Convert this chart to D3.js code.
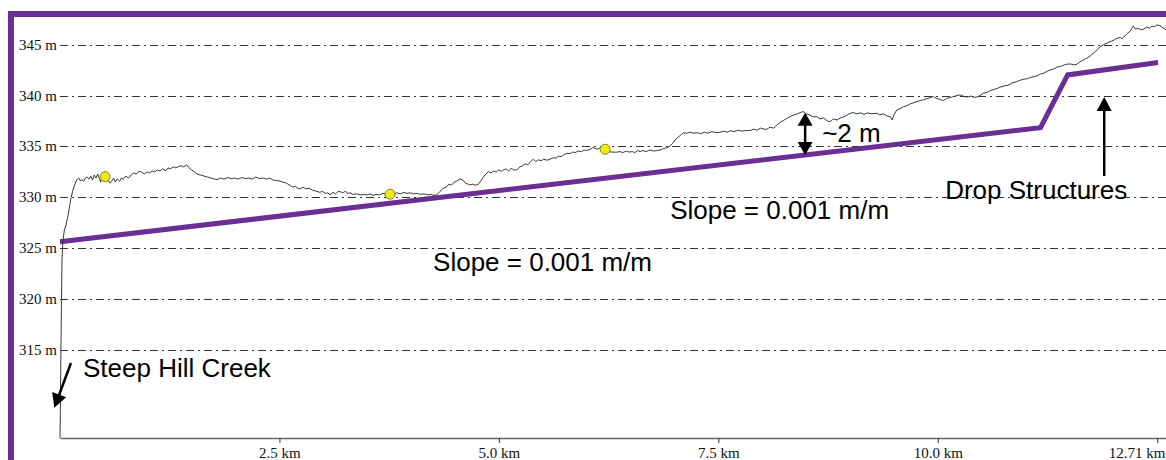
<!DOCTYPE html>
<html>
<head>
<meta charset="utf-8">
<script src="https://cdn.jsdelivr.net/npm/d3@7"></script>
<style>
  html, body { margin: 0; padding: 0; background: #fff; }
  svg { display: block; }
</style>
</head>
<body>
<svg id="chart" width="1166" height="460"></svg>
<script>
// Elevation gridlines (m) and their labels
const elevTicks = [315, 320, 325, 330, 335, 340, 345];
const elevTickLabels = ["315 m", "320 m", "325 m", "330 m", "335 m", "340 m", "345 m"];

// Distance ticks (km) and labels; the last tick marks the end of the route
const distTicks = [2.5, 5.0, 7.5, 10.0, 12.5];
const distTickLabels = ["2.5 km", "5.0 km", "7.5 km", "10.0 km", "12.71 km"];

// Ground profile along the creek: [distance km, elevation m]
const profile = [
  [0.000,306.4],[0.004,309.0],[0.008,312.5],[0.012,316.0],[0.017,319.9],[0.023,323.9],[0.034,325.8],
  [0.050,326.8],[0.068,327.3],[0.091,328.2],[0.110,329.2],[0.125,329.95],[0.148,330.74],[0.170,331.3],
  [0.190,331.72],[0.215,331.9],[0.235,331.6],[0.250,331.75],[0.270,331.6],[0.290,331.9],[0.310,332.0],
  [0.330,331.8],[0.350,332.1],[0.370,331.7],[0.390,332.2],[0.410,331.9],[0.430,332.3],[0.450,331.8],
  [0.465,331.5],[0.480,332.3],[0.500,332.1],[0.513,332.04],[0.530,331.9],[0.550,331.7],[0.570,331.4],
  [0.590,331.6],[0.610,331.9],[0.630,331.5],[0.650,331.8],[0.680,331.6],[0.700,331.9],[0.720,331.8],
  [0.750,332.1],[0.780,331.9],[0.810,332.2],[0.840,332.4],[0.870,332.3],[0.900,332.55],[0.930,332.5],
  [0.960,332.3],[0.990,332.5],[1.020,332.4],[1.050,332.6],[1.080,332.5],[1.110,332.7],[1.140,332.6],
  [1.170,332.8],[1.200,332.6],[1.230,332.9],[1.260,332.8],[1.290,333.0],[1.320,332.9],[1.350,333.05],
  [1.380,333.1],[1.410,333.0],[1.444,333.2],[1.470,332.9],[1.500,332.7],[1.530,332.5],[1.560,332.3],
  [1.600,332.2],[1.640,332.1],[1.680,332.0],[1.720,331.9],[1.760,331.8],[1.790,331.75],[1.830,331.9],
  [1.870,331.8],[1.910,331.95],[1.950,331.85],[1.990,331.9],[2.030,331.8],[2.070,331.95],[2.110,331.85],
  [2.150,331.9],[2.190,331.8],[2.230,332.0],[2.270,331.85],[2.310,331.9],[2.350,331.8],[2.390,331.9],
  [2.430,331.7],[2.470,331.65],[2.510,331.6],[2.540,331.5],[2.580,331.4],[2.620,331.2],[2.650,331.0],
  [2.680,331.1],[2.710,330.9],[2.735,330.85],[2.770,331.0],[2.800,330.85],[2.840,330.9],[2.880,330.7],
  [2.925,330.6],[2.960,330.5],[2.990,330.6],[3.020,330.4],[3.050,330.45],[3.077,330.25],[3.110,330.5],
  [3.140,330.35],[3.170,330.6],[3.190,330.57],[3.220,330.45],[3.250,330.6],[3.280,330.4],[3.304,330.45],
  [3.340,330.3],[3.380,330.35],[3.420,330.25],[3.460,330.3],[3.500,330.25],[3.530,330.35],[3.567,330.2],
  [3.600,330.3],[3.640,330.25],[3.680,330.4],[3.720,330.3],[3.760,330.3],[3.800,330.35],[3.840,330.45],
  [3.880,330.35],[3.920,330.5],[3.950,330.4],[3.990,330.45],[4.030,330.35],[4.070,330.4],[4.110,330.3],
  [4.150,330.35],[4.190,330.25],[4.230,330.3],[4.260,330.2],[4.292,330.25],[4.330,330.6],[4.368,330.9],
  [4.400,331.0],[4.430,331.3],[4.460,331.2],[4.490,331.5],[4.520,331.6],[4.558,331.82],[4.590,331.7],
  [4.620,331.4],[4.650,331.3],[4.672,331.23],[4.700,331.3],[4.730,331.2],[4.766,331.3],[4.800,331.7],
  [4.840,332.2],[4.880,332.53],[4.910,332.4],[4.940,332.6],[4.970,332.5],[5.000,332.7],[5.030,332.55],
  [5.051,332.7],[5.080,332.8],[5.110,332.6],[5.140,332.85],[5.170,332.7],[5.204,332.7],[5.240,333.0],
  [5.270,333.1],[5.300,333.3],[5.330,333.2],[5.360,333.5],[5.393,333.75],[5.420,333.5],[5.450,333.7],
  [5.480,333.6],[5.510,333.75],[5.550,333.65],[5.584,333.75],[5.620,333.9],[5.650,333.85],[5.680,334.05],
  [5.710,334.0],[5.740,334.2],[5.774,334.34],[5.810,334.3],[5.840,334.45],[5.870,334.4],[5.900,334.55],
  [5.940,334.5],[5.970,334.65],[6.000,334.6],[6.039,334.7],[6.070,334.9],[6.100,334.8],[6.130,334.75],
  [6.160,334.9],[6.210,334.73],[6.250,334.5],[6.290,334.45],[6.343,334.44],[6.380,334.5],[6.410,334.4],
  [6.450,334.55],[6.480,334.45],[6.520,334.5],[6.550,334.4],[6.580,334.6],[6.609,334.5],[6.640,334.6],
  [6.680,334.5],[6.720,334.65],[6.760,334.55],[6.800,334.6],[6.837,334.66],[6.880,334.8],[6.920,334.9],
  [6.951,335.06],[6.980,335.3],[7.008,335.64],[7.040,335.9],[7.070,336.1],[7.102,336.36],[7.140,336.3],
  [7.180,336.4],[7.220,336.3],[7.260,336.35],[7.300,336.25],[7.340,336.4],[7.380,336.3],[7.420,336.45],
  [7.483,336.36],[7.520,336.4],[7.560,336.5],[7.600,336.4],[7.640,336.55],[7.680,336.45],[7.720,336.6],
  [7.760,336.5],[7.800,336.55],[7.862,336.56],[7.900,336.7],[7.940,336.6],[7.980,336.8],[8.020,336.7],
  [8.053,336.69],[8.090,336.9],[8.130,336.8],[8.167,337.12],[8.210,337.4],[8.250,337.6],[8.290,337.8],
  [8.318,337.93],[8.360,338.1],[8.400,338.2],[8.440,338.35],[8.470,338.42],[8.500,338.2],[8.540,338.1],
  [8.580,337.9],[8.622,337.93],[8.660,337.7],[8.700,337.8],[8.740,337.5],[8.774,337.44],[8.810,337.7],
  [8.850,337.6],[8.890,337.8],[8.930,337.9],[8.970,338.1],[9.000,338.25],[9.039,338.32],[9.080,338.2],
  [9.120,338.3],[9.160,338.15],[9.200,338.3],[9.240,338.2],[9.306,338.26],[9.340,338.1],[9.380,338.2],
  [9.420,338.0],[9.458,337.93],[9.480,337.6],[9.500,338.1],[9.534,338.59],[9.570,338.7],[9.610,338.9],
  [9.650,339.0],[9.690,339.2],[9.730,339.3],[9.762,339.4],[9.800,339.5],[9.840,339.6],[9.880,339.7],
  [9.920,339.8],[9.951,339.89],[9.990,339.7],[10.030,339.6],[10.065,339.5],[10.100,339.7],[10.140,339.8],
  [10.180,339.9],[10.220,340.0],[10.255,340.06],[10.300,339.9],[10.340,339.85],[10.380,339.95],[10.420,339.8],
  [10.460,339.9],[10.521,340.23],[10.560,340.3],[10.600,340.5],[10.640,340.6],[10.680,340.7],[10.720,340.85],
  [10.760,340.95],[10.800,341.0],[10.840,341.2],[10.901,341.37],[10.940,341.5],[10.980,341.6],[11.020,341.65],
  [11.060,341.8],[11.100,341.85],[11.129,341.93],[11.170,342.1],[11.210,342.2],[11.250,342.4],[11.281,342.51],
  [11.320,342.6],[11.360,342.8],[11.400,342.85],[11.440,343.0],[11.471,343.07],[11.510,343.1],[11.550,343.0],
  [11.585,343.07],[11.620,343.3],[11.660,343.5],[11.699,343.66],[11.740,343.9],[11.780,344.2],[11.820,344.5],
  [11.851,344.8],[11.890,345.0],[11.930,345.15],[11.970,345.3],[12.010,345.45],[12.041,345.62],[12.080,345.7],
  [12.100,345.55],[12.116,345.72],[12.160,346.1],[12.190,346.3],[12.211,346.61],[12.230,346.83],[12.250,346.5],
  [12.280,346.6],[12.310,346.45],[12.344,346.51],[12.380,346.7],[12.410,346.6],[12.440,346.8],[12.470,346.75],
  [12.496,346.93],[12.530,346.85],[12.572,346.61],[12.603,346.44]
];

// Sampled points on the ground profile
const samplePoints = [[0.513, 332.04], [3.76, 330.32], [6.21, 334.73]];

// Design channel grade with the drop structures: [distance km, elevation m]
const designGrade = [[0, 325.66], [11.17, 336.85], [11.48, 342.02], [12.51, 343.23]];

// Text callouts anchored in data units: [distance km, elevation m]
const callouts = [
  { text: "Steep Hill Creek", at: [0.262, 312.39] },
  { text: "~2 m", at: [8.683, 335.45] },
  { text: "Slope = 0.001 m/m", at: [6.951, 327.89] },
  { text: "Slope = 0.001 m/m", at: [4.25, 322.79] },
  { text: "Drop Structures", at: [10.084, 329.85] }
];

// Callout arrows: [from, to]; double-headed arrows list both ends
const arrows = [
  { from: [0.125, 313.76], to: [-0.065, 309.37], both: false },
  { from: [8.489, 336.2], to: [8.489, 338.32], both: true, other: [8.489, 334.17] },
  { from: [11.896, 332.11], to: [11.896, 339.86], both: false }
];

const W = 1166, H = 460;
const svg = d3.select("#chart");
const purple = "#6b2e93";

const x = d3.scaleLinear().domain([0, 12.6]).range([60, 1166]);
const y = d3.scaleLinear().domain([306.4, 347.8]).range([438, 16]);

// Frame
svg.append("rect").attr("x", 8).attr("y", 11).attr("width", W - 8).attr("height", 6).attr("fill", purple);
svg.append("rect").attr("x", 8).attr("y", 11).attr("width", 6).attr("height", H - 11).attr("fill", purple);

// Gridlines and elevation labels
const grid = svg.append("g");
elevTicks.forEach((v, i) => {
  grid.append("line")
    .attr("x1", 60).attr("x2", W)
    .attr("y1", Math.round(y(v)) + 0.5).attr("y2", Math.round(y(v)) + 0.5)
    .attr("stroke", "#333").attr("stroke-width", 1)
    .attr("stroke-dasharray", "8,4,2,4");
  grid.append("text")
    .attr("x", 57).attr("y", y(v) + 5)
    .attr("text-anchor", "end")
    .attr("font-family", "'Liberation Serif', 'Times New Roman', serif")
    .attr("font-size", 15).attr("fill", "#111")
    .text(elevTickLabels[i]);
});

// Distance axis
const xAxis = d3.axisBottom(x)
  .tickValues(distTicks)
  .tickFormat((d, i) => distTickLabels[i])
  .tickSizeInner(5).tickSizeOuter(0);
const gx = svg.append("g").attr("transform", "translate(0,438)").call(xAxis);
gx.select(".domain").attr("stroke", "#666").attr("stroke-width", 1.5);
gx.selectAll(".tick line").attr("stroke", "#333");
gx.selectAll(".tick text")
  .attr("font-family", "'Liberation Serif', 'Times New Roman', serif")
  .attr("font-size", 15).attr("fill", "#111").attr("dy", 0).attr("y", 20);
// the end-of-route label sits against the right edge
gx.selectAll(".tick text").filter((d, i) => i === distTicks.length - 1)
  .attr("text-anchor", "end").attr("x", W - x(distTicks[distTicks.length - 1]) - 1);

// Design grade
svg.append("path")
  .datum(designGrade)
  .attr("d", d3.line().x(d => x(d[0])).y(d => y(d[1])))
  .attr("fill", "none").attr("stroke", purple).attr("stroke-width", 5)
  .attr("stroke-linejoin", "miter");

// Ground profile
svg.append("path")
  .datum(profile)
  .attr("d", d3.line().x(d => x(d[0])).y(d => y(d[1])))
  .attr("fill", "none").attr("stroke", "#3a3a3a").attr("stroke-width", 1);

// Sample points
svg.selectAll("circle.sample").data(samplePoints).join("circle")
  .attr("class", "sample")
  .attr("cx", d => x(d[0])).attr("cy", d => y(d[1])).attr("r", 5)
  .attr("fill", "#f2ea10").attr("stroke", "#8a8420").attr("stroke-width", 1);

// Arrows
function head(tip, from, len, half) {
  const dx = tip[0] - from[0], dy = tip[1] - from[1];
  const L = Math.hypot(dx, dy), ux = dx / L, uy = dy / L;
  const bx = tip[0] - ux * len, by = tip[1] - uy * len;
  return `M${tip[0]},${tip[1]}L${bx - uy * half},${by + ux * half}L${bx + uy * half},${by - ux * half}Z`;
}
const ag = svg.append("g");
arrows.forEach(a => {
  if (a.both) {
    const p1 = [x(a.to[0]), y(a.to[1])], p2 = [x(a.other[0]), y(a.other[1])];
    ag.append("line").attr("x1", p1[0]).attr("y1", p1[1] + 8).attr("x2", p2[0]).attr("y2", p2[1] - 8)
      .attr("stroke", "#000").attr("stroke-width", 2.5);
    ag.append("path").attr("d", head(p1, p2, 13, 7.5)).attr("fill", "#000");
    ag.append("path").attr("d", head(p2, p1, 13, 7.5)).attr("fill", "#000");
  } else {
    const p0 = [x(a.from[0]), y(a.from[1])], p1 = [x(a.to[0]), y(a.to[1])];
    const dx = p1[0] - p0[0], dy = p1[1] - p0[1], L = Math.hypot(dx, dy);
    ag.append("line").attr("x1", p0[0]).attr("y1", p0[1])
      .attr("x2", p1[0] - dx / L * 8).attr("y2", p1[1] - dy / L * 8)
      .attr("stroke", "#000").attr("stroke-width", 2.5);
    ag.append("path").attr("d", head(p1, p0, 14, 7.5)).attr("fill", "#000");
  }
});

// Callout text
svg.selectAll("text.callout").data(callouts).join("text")
  .attr("class", "callout")
  .attr("x", d => x(d.at[0])).attr("y", d => y(d.at[1]))
  .attr("font-family", "'Liberation Sans', Arial, sans-serif")
  .attr("font-size", 26).attr("fill", "#000")
  .text(d => d.text);
</script>
</body>
</html>
